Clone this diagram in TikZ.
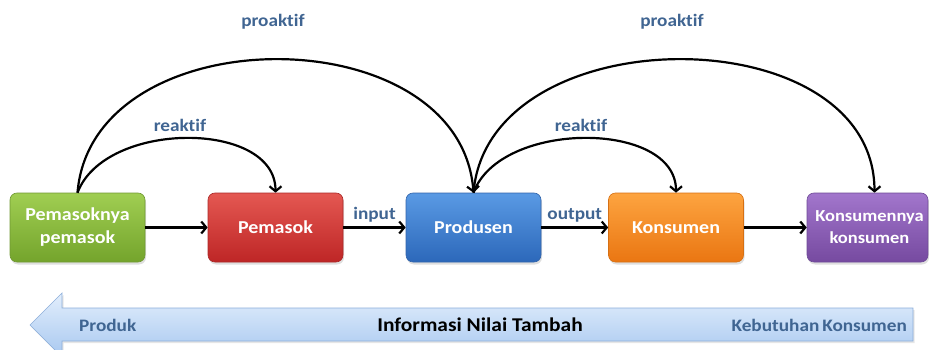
\documentclass[tikz,border=0pt]{standalone}
\usepackage{fontspec}
\setmainfont{Carlito}[FakeStretch=1.1, Ligatures=NoCommon]
\usetikzlibrary{arrows.meta,shadows}

\definecolor{lbl}{RGB}{64,101,146}
\definecolor{gTop}{RGB}{160,206,82}\definecolor{gBot}{RGB}{116,164,44}\definecolor{gLn}{RGB}{112,152,52}
\definecolor{rTop}{RGB}{228,88,82}\definecolor{rBot}{RGB}{190,38,38}\definecolor{rLn}{RGB}{170,40,40}
\definecolor{bTop}{RGB}{90,154,228}\definecolor{bBot}{RGB}{44,104,186}\definecolor{bLn}{RGB}{50,100,170}
\definecolor{oTop}{RGB}{253,164,64}\definecolor{oBot}{RGB}{234,118,18}\definecolor{oLn}{RGB}{214,112,20}
\definecolor{pTop}{RGB}{162,118,204}\definecolor{pBot}{RGB}{118,74,160}\definecolor{pLn}{RGB}{110,74,150}
\definecolor{aTop}{RGB}{226,238,252}\definecolor{aBot}{RGB}{168,200,240}\definecolor{aLn}{RGB}{140,174,218}

\begin{document}
\begin{tikzpicture}[x=1pt,y=1pt,
  font=\fontsize{17.5}{22.5}\selectfont\bfseries,
  box/.style={draw=#1Ln, line width=0.6pt, top color=#1Top, bottom color=#1Bot,
    rounded corners=7pt, minimum width=135pt, minimum height=69pt, inner sep=0pt,
    align=center, text=white, font=\fontsize{18.2}{23}\selectfont\bfseries,
    drop shadow={opacity=0.25, shadow xshift=1pt, shadow yshift=-2.5pt}},
  conn/.style={line width=2.2pt, -{Straight Barb[length=5pt,width=12pt,line width=2.2pt]}},
  lab/.style={text=lbl, inner sep=1pt}]
\useasboundingbox (0,0) rectangle (929,-350);
\begin{scope}
\clip (0,0) rectangle (929,-350);

% value-information arrow pointing left
\path[top color=aTop, bottom color=aBot, draw=aLn, line width=0.7pt,
      drop shadow={opacity=0.2, shadow xshift=1.5pt, shadow yshift=-2pt}]
  (30,-325) -- (62,-293) -- (62,-308) -- (913,-308) -- (913,-341)
  -- (62,-341) -- (62,-357) -- cycle;
\node[lab, anchor=west] (prod) at (78,-325) {Produk};
\node[text=black, font=\fontsize{19.5}{23}\selectfont\bfseries] (info) at (480,-325) {Informasi Nilai Tambah};
\node[lab, anchor=east] (kebu) at (908,-325) {Kebutuhan\,Konsumen};

% supply-chain boxes
\node[box=g] (g) at (77.5,-227.5) {Pemasoknya\\pemasok};
\node[box=r] (r) at (275.5,-227.5) {Pemasok};
\node[box=b] (b) at (473.5,-227.5) {Produsen};
\node[box=o] (o) at (676,-227.5) {Konsumen};
\node[box=p, minimum width=121pt, font=\fontsize{16.8}{22}\selectfont\bfseries]
  (p) at (867.5,-227.5) {\hspace*{4pt}Konsumennya\\\hspace*{4pt}konsumen};
\end{scope}

% flow between neighbours
\draw[conn] (g.east) -- (r.west);
\draw[conn] (r.east) -- node[lab, above=3pt] (in) {input} (b.west);
\draw[conn] (b.east) -- node[lab, above=3pt] (out) {output} (o.west);
\draw[conn] (o.east) -- (p.west);

% reactive and proactive links
\draw[conn] (g.north) .. controls (105,-120) and (r.north |- 0,-120) .. (r.north);
\draw[conn] (g.north) .. controls (92,-15) and (460,-15) .. (b.north);
\draw[conn] (b.north) .. controls (500,-120) and (o.north |- 0,-120) .. (o.north);
\draw[conn] (b.north) .. controls (488,-15) and (874,-15) .. ([xshift=7pt]p.north);

\node[lab] (re1) at (180,-125) {reaktif};
\node[lab] (pr1) at (273,-22) {proaktif};
\node[lab] (re2) at (581,-125) {reaktif};
\node[lab] (pr2) at (672,-22) {proaktif};
\end{tikzpicture}
\end{document}
